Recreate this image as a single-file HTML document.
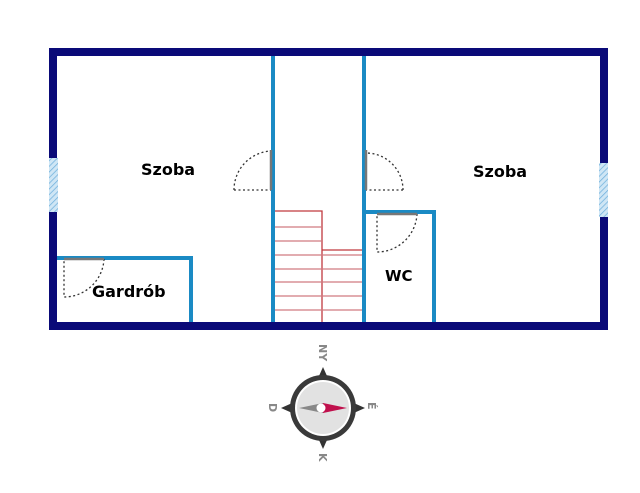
<!DOCTYPE html>
<html><head><style>body{margin:0;background:#fff}svg{display:block}</style></head><body>
<svg width="640" height="493" viewBox="0 0 640 493" xmlns="http://www.w3.org/2000/svg">
<defs><pattern id="h" width="4" height="4" patternUnits="userSpaceOnUse" patternTransform="rotate(45)"><rect width="4" height="4" fill="#cfe6f5"/><line x1="0" y1="0" x2="0" y2="4" stroke="#6fb0dc" stroke-width="1.5"/></pattern></defs>
<rect x="53" y="52" width="551" height="274" fill="none" stroke="#0a0a78" stroke-width="8"/>
<rect x="49" y="158" width="9" height="54" fill="url(#h)"/>
<rect x="599" y="163" width="9" height="54" fill="url(#h)"/>
<g stroke="#1a8ac4" stroke-width="4" fill="none">
<line x1="273" y1="56" x2="273" y2="322"/>
<line x1="364" y1="56" x2="364" y2="322"/>
<polyline points="57,258 191,258 191,322"/>
<polyline points="364,212 434,212 434,322"/>
</g>
<g stroke="#c0393f" stroke-width="1.3" fill="none">
<polyline points="275,211 322,211 322,322"/>
<line x1="322" y1="250" x2="362" y2="250"/>
<g stroke="#d07a80"><line x1="275" y1="227" x2="322" y2="227"/><line x1="275" y1="241" x2="322" y2="241"/>
<line x1="275" y1="255" x2="362" y2="255"/><line x1="275" y1="269" x2="362" y2="269"/><line x1="275" y1="282" x2="362" y2="282"/><line x1="275" y1="296" x2="362" y2="296"/><line x1="275" y1="310" x2="362" y2="310"/></g>
</g>
<g stroke="#333" stroke-width="1.3" stroke-dasharray="2,2.5" fill="none">
<path d="M234,190 A39,39 0 0 1 271,151 M234,190 H271"/>
<path d="M403,190 A37,37 0 0 0 366,153 M403,190 H366"/>
<path d="M417,214 A40,40 0 0 1 377,252 V214"/>
<path d="M104,259 A40,40 0 0 1 64,297 V259"/>
</g>
<g stroke="#777" stroke-width="2.5">
<line x1="271" y1="150" x2="271" y2="190"/><line x1="366" y1="150" x2="366" y2="190"/>
<line x1="377" y1="214" x2="417" y2="214"/><line x1="64" y1="259" x2="104" y2="259"/>
</g>
<g font-family="DejaVu Sans, Liberation Sans, sans-serif" font-weight="bold" font-size="16" fill="#000">
<text x="141" y="175">Szoba</text><text x="473" y="177">Szoba</text>
<text x="385" y="281" font-size="15">WC</text><text x="92" y="297">Gardrób</text>
</g>
<g>
<polygon points="323,367 331,385 315,385" fill="#333"/>
<polygon points="323,449 331,431 315,431" fill="#333"/>
<polygon points="281,408 299,400 299,416" fill="#333"/>
<polygon points="365,408 347,400 347,416" fill="#333"/>
<circle cx="323" cy="408" r="33" fill="#3a3a3a"/>
<circle cx="323" cy="408" r="28" fill="#fff"/>
<circle cx="323" cy="408" r="26" fill="#e2e2e2"/>
<polygon points="299,408 323,403 323,413" fill="#888"/>
<polygon points="347,408 323,403 323,413" fill="#c0114d"/>
<circle cx="321" cy="408" r="4.5" fill="#fff"/>
</g>
<g font-family="DejaVu Sans, Liberation Sans, sans-serif" font-weight="bold" font-size="11" fill="#888">
<text transform="translate(319,344) rotate(90)">NY</text>
<text transform="translate(368,402) rotate(90)">É</text>
<text transform="translate(319,453) rotate(90)">K</text>
<text transform="translate(269,403) rotate(90)">D</text>
</g>
</svg>
</body></html>
